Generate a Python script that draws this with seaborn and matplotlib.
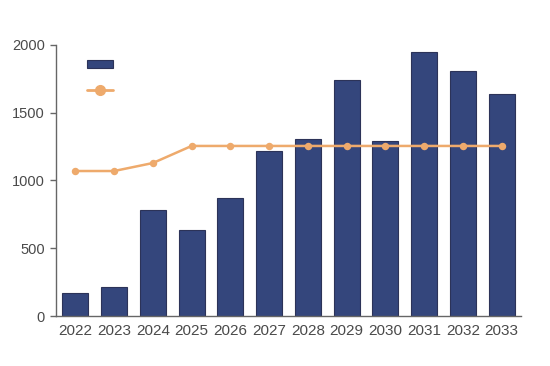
import matplotlib
matplotlib.use("Agg")
import matplotlib.pyplot as plt
import seaborn as sns
import pandas as pd
from matplotlib.patches import Patch
from matplotlib.lines import Line2D
from matplotlib.ticker import FixedLocator

years = ["2022", "2023", "2024", "2025", "2026", "2027", "2028", "2029", "2030", "2031", "2032", "2033"]
bar_values = [170, 214, 782, 635, 871, 1218, 1306, 1742, 1291, 1948, 1808, 1638]
line_values = [1070, 1070, 1129, 1255, 1255, 1255, 1255, 1255, 1255, 1255, 1255, 1255]

bar_color = "#34467c"
bar_edge = "#2c3358"
line_color = "#eeaa6c"
text_color = "#4a4a4a"
spine_color = "#666666"

sns.set_theme(style="white")
plt.rcParams["font.family"] = ["Liberation Sans", "DejaVu Sans"]

df = pd.DataFrame({"year": years, "bar": bar_values, "line": line_values})

fig = plt.figure(figsize=(5.5, 3.66), dpi=100)
ax = fig.add_axes([56 / 550, 1 - 316 / 366, 465 / 550, 271 / 366])

sns.barplot(data=df, x="year", y="bar", color=bar_color, edgecolor=bar_edge,
            linewidth=0.8, width=0.67, saturation=1, ax=ax)
sns.pointplot(data=df, x="year", y="line", color=line_color, markers="o",
              markersize=4, linewidth=1.8, ax=ax)

ax.set_xlim(-0.5, len(years) - 0.5)
ax.set_ylim(0, 2000)
ax.set_yticks([0, 500, 1000, 1500, 2000])
ax.set_xlabel("")
ax.set_ylabel("")

for s in ["top", "right"]:
    ax.spines[s].set_visible(False)
for s in ["left", "bottom"]:
    ax.spines[s].set_color(spine_color)
    ax.spines[s].set_linewidth(1.0)

ax.tick_params(axis="x", which="major", length=0, labelsize=11, colors=text_color, pad=6)
ax.xaxis.set_minor_locator(FixedLocator([i - 0.5 for i in range(len(years) + 1)]))
ax.tick_params(axis="x", which="minor", length=4, width=1, color=spine_color, direction="out")
ax.tick_params(axis="y", length=4, width=1, color=spine_color, labelsize=10.5,
               labelcolor=text_color, direction="out", left=True, pad=4)

handles = [
    Patch(facecolor=bar_color, edgecolor=bar_edge, linewidth=0.8),
    Line2D([0], [0], color=line_color, linewidth=2, marker="o", markersize=7),
]
ax.legend(handles, ["", ""], loc="upper left", bbox_to_anchor=(0.04, 0.998),
          frameon=False, handlelength=1.9, handleheight=0.5, labelspacing=0.85,
          handletextpad=0, fontsize=10)

fig.savefig("out.png", dpi=100)
